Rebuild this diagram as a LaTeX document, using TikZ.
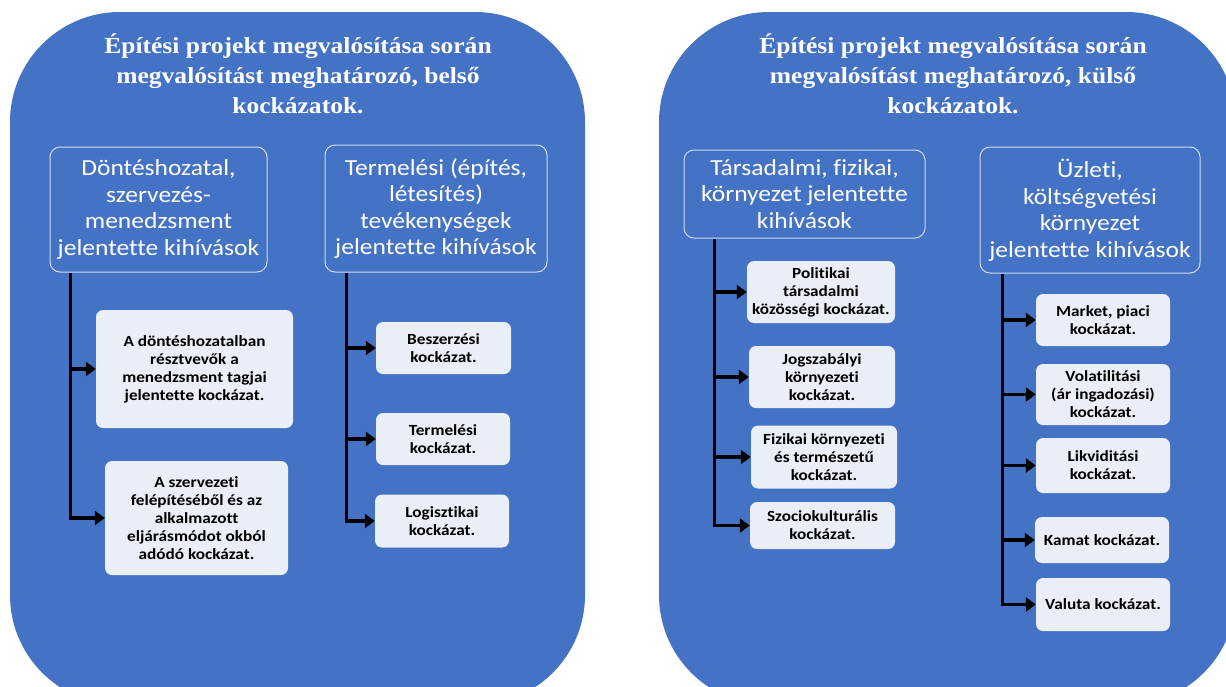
\documentclass[tikz,border=0pt]{standalone}
\usepackage{fontspec}
\setmainfont{Carlito}[FakeStretch=1.11, Ligatures=CommonOff]
\newfontfamily\titlefont{Liberation Serif}[FakeStretch=1.11]
\usetikzlibrary{arrows.meta,calc}
\definecolor{panelblue}{HTML}{4472C4}
\definecolor{boxfill}{HTML}{E9EEF7}
\definecolor{hdrline}{HTML}{D0DBEF}
\begin{document}
\begin{tikzpicture}[x=1pt,y=-1pt,
  panel/.style={fill=panelblue, rounded corners=110pt},
  title/.style={text=white, font=\titlefont\bfseries\fontsize{23}{30}\selectfont, align=center, inner sep=0pt},
  hdr/.style={draw=hdrline, line width=1pt, fill=panelblue, rounded corners=10pt, text=white, align=center, font=\fontsize{23}{26.5}\selectfont, inner sep=0pt},
  child/.style={fill=boxfill, rounded corners=7pt, align=center, font=\bfseries\fontsize{15.5}{18}\selectfont, inner sep=0pt, text=black},
  conn/.style={line width=3.5pt, black, line join=miter},
  arr/.style={conn, -{Triangle[length=10pt,width=14pt]}}]
\useasboundingbox (0,0) rectangle (1226,686);
\clip (0,0) rectangle (1226,686);
\fill[white] (0,0) rectangle (1226,686);
% panels
\fill[panel] (10,12) rectangle (585,705);
\fill[panel] (659,12) rectangle (1236,705);
% titles
\node[title] (t1) at (298,74) {Építési projekt megvalósítása során\\megvalósítást meghatározó, belső\\kockázatok.};
\node[title] (t2) at (953,74) {Építési projekt megvalósítása során\\megvalósítást meghatározó, külső\\kockázatok.};
% headers
\node[hdr, minimum width=217pt, minimum height=125pt] (hA) at (158.5,209.5) {Döntéshozatal,\\szervezés-\\menedzsment\\jelentette kihívások};
\node[hdr, minimum width=222pt, minimum height=127pt] (hB) at (436,208.5) {Termelési (építés,\\létesítés)\\tevékenységek\\jelentette kihívások};
\node[hdr, minimum width=241pt, minimum height=88pt] (hC) at (804.5,194) {Társadalmi, fizikai,\\környezet jelentette\\kihívások};
\node[hdr, minimum width=220pt, minimum height=126pt] (hD) at (1090,210) {Üzleti,\\költségvetési\\környezet\\jelentette kihívások};
% children left
\node[child, minimum width=197pt, minimum height=118pt] (A1) at (194.5,369) {A döntéshozatalban\\résztvevők a\\menedzsment tagjai\\jelentette kockázat.};
\node[child, minimum width=183pt, minimum height=114pt] (A2) at (196.5,518) {A szervezeti\\felépítéséből és az\\alkalmazott\\eljárásmódot okból\\adódó kockázat.};
\node[child, minimum width=135pt, minimum height=52pt] (B1) at (443.5,348) {Beszerzési\\kockázat.};
\node[child, minimum width=134pt, minimum height=52pt] (B2) at (443,439) {Termelési\\kockázat.};
\node[child, minimum width=134pt, minimum height=53pt] (B3) at (442,521) {Logisztikai\\kockázat.};
% children right
\node[child, minimum width=148pt, minimum height=62pt] (C1) at (821,292) {Politikai\\társadalmi\\közösségi kockázat.};
\node[child, minimum width=146pt, minimum height=62pt] (C2) at (822,377) {Jogszabályi\\környezeti\\kockázat.};
\node[child, minimum width=146pt, minimum height=63pt] (C3) at (824,457) {Fizikai környezeti\\és természetű\\kockázat.};
\node[child, minimum width=145pt, minimum height=47pt] (C4) at (822.5,525.5) {Szociokulturális\\kockázat.};
\node[child, minimum width=134pt, minimum height=52pt] (D1) at (1103,320) {Market, piaci\\kockázat.};
\node[child, minimum width=134pt, minimum height=61pt] (D2) at (1103,394.5) {Volatilitási\\(ár ingadozási)\\kockázat.};
\node[child, minimum width=134pt, minimum height=55pt] (D3) at (1103,465.5) {Likviditási\\kockázat.};
\node[child, minimum width=134pt, minimum height=46pt] (D4) at (1102,540) {Kamat kockázat.};
\node[child, minimum width=134pt, minimum height=53pt] (D5) at (1103,604.5) {Valuta kockázat.};
% connectors
\coordinate (a0) at ($(hA.south west)+(21,0)$);
\coordinate (b0) at ($(hB.south west)+(22,0)$);
\coordinate (c0) at ($(hC.south west)+(31,0)$);
\coordinate (d0) at ($(hD.south west)+(23,0)$);
\draw[arr] (a0) |- (A2.west);
\draw[arr] (a0 |- A1.west) -- (A1.west);
\draw[arr] (b0) |- (B3.west);
\draw[arr] (b0 |- B1.west) -- (B1.west);
\draw[arr] (b0 |- B2.west) -- (B2.west);
\draw[arr] (c0) |- (C4.west);
\draw[arr] (c0 |- C1.west) -- (C1.west);
\draw[arr] (c0 |- C2.west) -- (C2.west);
\draw[arr] (c0 |- C3.west) -- (C3.west);
\draw[arr] (d0) |- (D5.west);
\draw[arr] (d0 |- D1.west) -- (D1.west);
\draw[arr] (d0 |- D2.west) -- (D2.west);
\draw[arr] (d0 |- D3.west) -- (D3.west);
\draw[arr] (d0 |- D4.west) -- (D4.west);
\end{tikzpicture}
\end{document}
